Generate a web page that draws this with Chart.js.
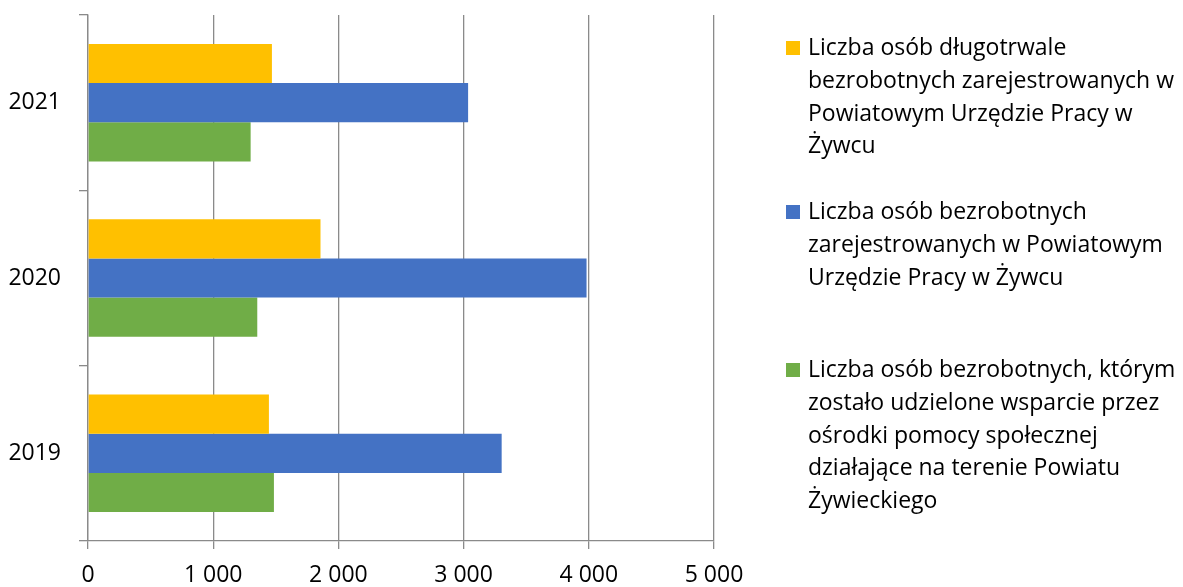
<!DOCTYPE html>
<html lang="pl">
<head>
<meta charset="utf-8">
<script src="https://cdn.jsdelivr.net/npm/chart.js@4.4.1/dist/chart.umd.min.js"></script>
<style>
  html, body { margin: 0; padding: 0; background: #fff; }
  #wrap { position: relative; width: 1183px; height: 587px; overflow: hidden; }
  #chart { position: absolute; left: 0; top: 0; }
  .legend-item { position: absolute; left: 786px; font-family: "Open Sans", sans-serif; font-size: 23px; line-height: 32.8px; color: #000; }
  .legend-item .box { position: absolute; left: 0; width: 14px; height: 14px; }
  .legend-item .txt { position: absolute; left: 22px; white-space: nowrap; }
</style>
</head>
<body>
<div id="wrap">
  <canvas id="chart" width="1183" height="587"></canvas>
  <div id="legend"></div>
</div>
<script>
const years = ['2021', '2020', '2019'];

const longTermUnemployed = [1469, 1857, 1445];
const registeredUnemployed = [3036, 3982, 3304];
const supportedBySocialCentres = [1299, 1352, 1485];

const seriesNames = [
  ['Liczba osób długotrwale', 'bezrobotnych zarejestrowanych w', 'Powiatowym Urzędzie Pracy w', 'Żywcu'],
  ['Liczba osób bezrobotnych', 'zarejestrowanych w Powiatowym', 'Urzędzie Pracy w Żywcu'],
  ['Liczba osób bezrobotnych, którym', 'zostało udzielone wsparcie przez', 'ośrodki pomocy społecznej', 'działające na terenie Powiatu', 'Żywieckiego']
];
const seriesColors = ['#FFC000', '#4472C4', '#70AD47'];

const xTicks = [0, 1000, 2000, 3000, 4000, 5000];

const gridColor = '#8a8a8a';

function formatThousands(v) {
  return String(v).replace(/\B(?=(\d{3})+(?!\d))/g, ' ');
}

// legend drawn as html on the right, wrapped the same way as the original
const legendTops = [30, 194, 352];
const legendEl = document.getElementById('legend');
seriesNames.forEach((lines, i) => {
  const item = document.createElement('div');
  item.className = 'legend-item';
  item.style.top = legendTops[i] + 'px';
  item.innerHTML =
    `<div class="box" style="top:11px;background:${seriesColors[i]}"></div>` +
    `<div class="txt">${lines.join('<br>')}</div>`;
  legendEl.appendChild(item);
});

const datasets = [longTermUnemployed, registeredUnemployed, supportedBySocialCentres].map((data, i) => ({
  label: seriesNames[i].join(' '),
  data: data,
  backgroundColor: seriesColors[i],
  borderWidth: 0,
  categoryPercentage: 0.67,
  barPercentage: 1.0
}));

// fixed plot box, so drop the extra room chart.js keeps for edge labels
function noEdgePadding(scale) {
  scale.paddingTop = 0;
  scale.paddingBottom = 0;
  scale.paddingLeft = 0;
  scale.paddingRight = 0;
}

new Chart(document.getElementById('chart'), {
  type: 'bar',
  data: { labels: years, datasets: datasets },
  options: {
    indexAxis: 'y',
    responsive: false,
    animation: false,
    layout: { padding: { top: 15, right: 469, left: 0, bottom: 0 } },
    plugins: {
      legend: { display: false },
      tooltip: { enabled: false }
    },
    scales: {
      x: {
        min: 0,
        max: 5000,
        afterBuildTicks: scale => { scale.ticks = xTicks.map(v => ({ value: v })); },
        afterFit: scale => { scale.height = 46; noEdgePadding(scale); },
        ticks: {
          callback: v => formatThousands(v),
          font: { family: 'Open Sans', size: 23 },
          color: '#000',
          padding: 13,
          maxRotation: 0
        },
        grid: { color: gridColor, lineWidth: 1.3, tickLength: 8 },
        border: { color: gridColor, width: 1.3 }
      },
      y: {
        afterFit: scale => { scale.width = 88; noEdgePadding(scale); },
        ticks: {
          font: { family: 'Open Sans', size: 23 },
          color: '#000',
          padding: 18
        },
        grid: { drawOnChartArea: false, color: gridColor, lineWidth: 1.3, tickLength: 9 },
        border: { color: gridColor, width: 1.3 }
      }
    }
  }
});
</script>
</body>
</html>
